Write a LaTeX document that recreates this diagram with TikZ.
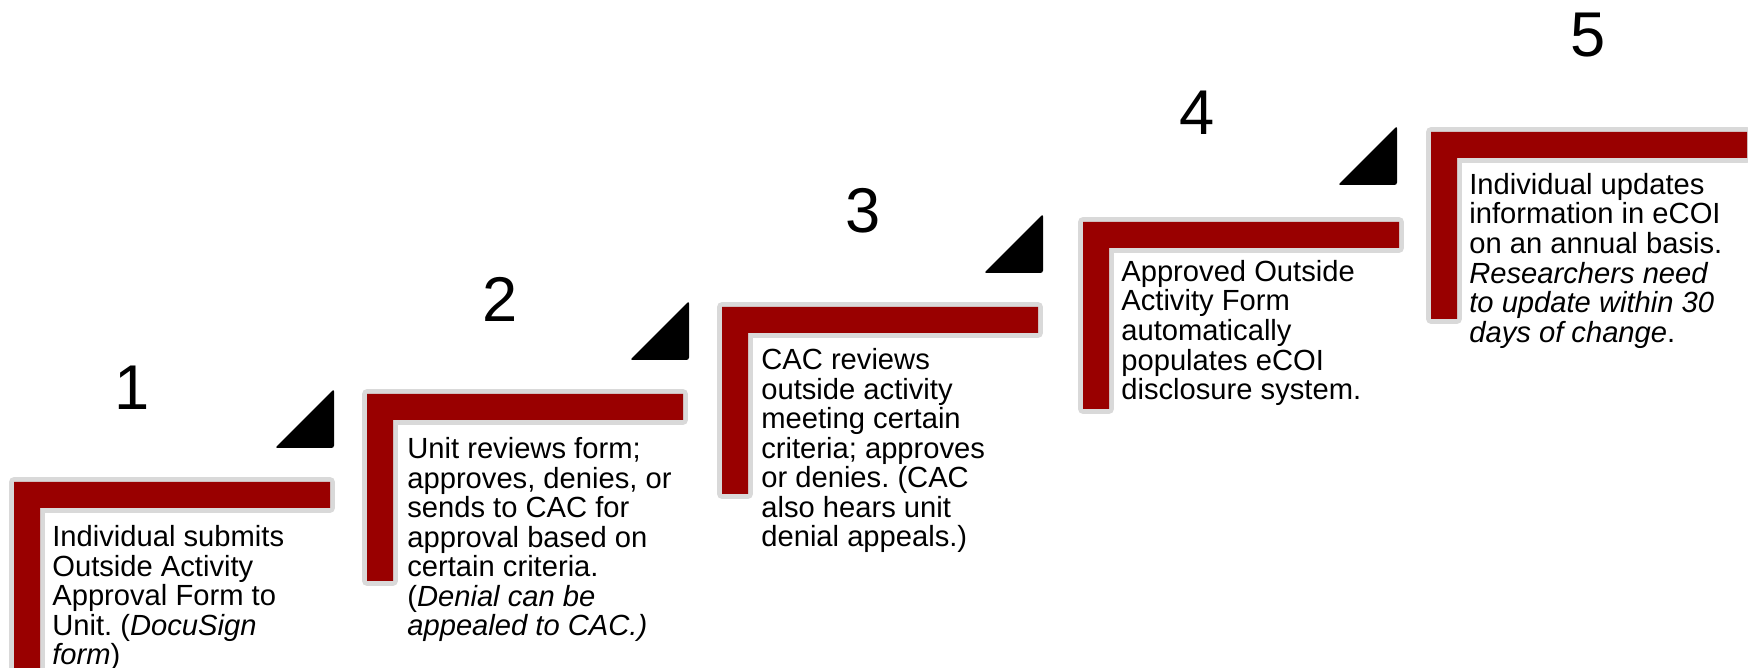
\documentclass[tikz,border=0pt]{standalone}
\usepackage{fontspec}
\setmainfont{Liberation Sans}
\usetikzlibrary{positioning}
\definecolor{StepRed}{RGB}{153,0,0}
\definecolor{EdgeGrey}{RGB}{217,217,217}
\frenchspacing

\begin{document}
\begin{tikzpicture}[
        x=0.02cm, y=-0.02cm,
        % --- L-shaped bar ---
        stepbar/.style={
            preaction={draw=EdgeGrey, line width=0.2cm, line join=round},
            fill=StepRed
        },
        % black corner triangle
        stepmark/.style={
            fill=black,
            rounded corners=0.05cm
        },
        % step numbers
        stepnum/.style={
            anchor=base, inner sep=0pt,
            font=\fontsize{36pt}{40pt}\selectfont
        },
        % step texts
        steptext/.style={
            anchor=north west, inner sep=0pt, align=left,
            font=\fontsize{16.6pt}{16.8pt}\selectfont
        }
    ]
    \useasboundingbox (0,0) rectangle (1748,668);

    % --- BARS ---
    \foreach \bx/\by in {14/482, 367/394, 722/307, 1083/222, 1431/132} {
        \fill[stepbar] (\bx,\by) -- ++(316,0) -- ++(0,26) -- ++(-290,0)
            -- ++(0,161) -- ++(-26,0) -- cycle;
    }

    % --- TRIANGLES ---
    \foreach \tx/\ty in {334/448, 689/360, 1043/273, 1397/185} {
        \fill[stepmark] (\tx,\ty) -- ++(-59,0) -- ++(59,-59) -- cycle;
    }

    % --- NUMBERS ---
    \node[stepnum] (n1) at (132,410) {1};
    \node[stepnum] (n2) at (500,322) {2};
    \node[stepnum] (n3) at (863,233) {3};
    \node[stepnum] (n4) at (1197,135) {4};
    \node[stepnum] (n5) at (1588,57) {5};

    % --- TEXTS ---
    \node[steptext] (t1) at (52,525) {Individual submits\\Outside Activity\\Approval Form to\\Unit. (\textit{DocuSign}\\\textit{form})};
    \node[steptext] (t2) at (407,437) {Unit reviews form;\\approves, denies, or\\sends to CAC for\\approval based on\\certain criteria.\\(\textit{Denial can be}\\\textit{appealed to CAC.)}};
    \node[steptext] (t3) at (761,348) {CAC reviews\\outside activity\\meeting certain\\criteria; approves\\or denies. (CAC\\also hears unit\\denial appeals.)};
    \node[steptext] (t4) at (1121,260) {Approved Outside\\Activity Form\\automatically\\populates eCOI\\disclosure system.};
    \node[steptext] (t5) at (1469,173) {Individual updates\\information in eCOI\\on an annual basis.\\\textit{Researchers need}\\\textit{to update within 30}\\\textit{days of change}.};

\end{tikzpicture}
\end{document}
